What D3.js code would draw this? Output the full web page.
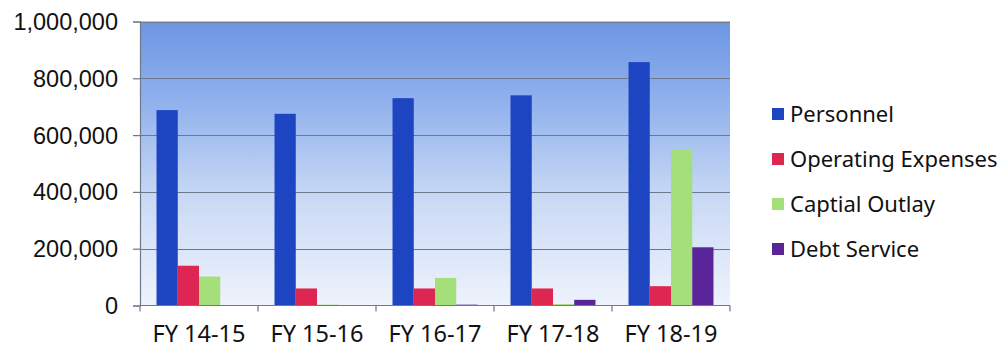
<!DOCTYPE html>
<html>
<head>
<meta charset="utf-8">
<script src="https://cdn.jsdelivr.net/npm/d3@7"></script>
<style>
  html, body { margin: 0; padding: 0; background: #ffffff; }
  svg { display: block; }
</style>
</head>
<body>
<svg id="chart" width="1005" height="349"></svg>
<script>
// Fiscal years on the x axis
const categories = ["FY 14-15", "FY 15-16", "FY 16-17", "FY 17-18", "FY 18-19"];

// Spending by category (dollars)
const personnel = [688000, 675000, 730000, 740000, 857000];
const operatingExpenses = [140000, 60000, 60000, 60000, 68000];
const capitalOutlay = [102000, 3000, 97000, 5000, 549000];
const debtService = [0, 0, 3000, 20000, 205000];

const seriesNames = ["Personnel", "Operating Expenses", "Captial Outlay", "Debt Service"];
const seriesValues = [personnel, operatingExpenses, capitalOutlay, debtService];
const seriesColors = ["#1d45c2", "#de2652", "#a5df7a", "#5a2598"];

const yTicks = [0, 200000, 400000, 600000, 800000, 1000000];

const svg = d3.select("#chart");
const plot = { left: 140, right: 730, top: 21.5, bottom: 305.5 };

const x0 = d3.scaleBand().domain(categories).range([plot.left, plot.right]).padding(0);
const bw = x0.bandwidth();
const x1 = d3.scaleBand().domain(seriesNames)
  .range([bw * 0.14, bw * 0.86]).padding(0);
const y = d3.scaleLinear().domain([0, 1000000]).range([plot.bottom, plot.top]);

// Plot background gradient
const defs = svg.append("defs");
const grad = defs.append("linearGradient").attr("id", "bg")
  .attr("x1", 0).attr("y1", 0).attr("x2", 0).attr("y2", 1);
[["0%", "#6c95e3"], ["30%", "#93b3ed"], ["62%", "#c9d9f5"], ["100%", "#eef3fc"]]
  .forEach(([o, c]) => grad.append("stop").attr("offset", o).attr("stop-color", c));

svg.append("rect")
  .attr("x", plot.left).attr("y", plot.top)
  .attr("width", plot.right - plot.left).attr("height", plot.bottom - plot.top)
  .attr("fill", "url(#bg)");

// Horizontal gridlines
svg.append("g").selectAll("line").data(yTicks.filter(d => d > 0)).join("line")
  .attr("x1", plot.left).attr("x2", plot.right)
  .attr("y1", d => Math.round(y(d)) + 0.5).attr("y2", d => Math.round(y(d)) + 0.5)
  .attr("stroke", "#6d7888").attr("stroke-width", 1.2);

// Bars
const rows = categories.map((c, i) => ({ cat: c, vals: seriesNames.map((s, j) => ({ s, v: seriesValues[j][i], color: seriesColors[j] })) }));
svg.append("g").selectAll("g").data(rows).join("g")
  .attr("transform", d => `translate(${x0(d.cat)},0)`)
  .selectAll("rect").data(d => d.vals).join("rect")
  .attr("x", d => x1(d.s))
  .attr("width", x1.bandwidth())
  .attr("y", d => y(d.v))
  .attr("height", d => y(0) - y(d.v))
  .attr("fill", d => d.color);

// Y axis
const yAxis = svg.append("g")
  .attr("transform", `translate(${plot.left},0)`)
  .call(d3.axisLeft(y).tickValues(yTicks).tickFormat(d3.format(",")).tickSize(7).tickPadding(15));
yAxis.select(".domain").attr("stroke", "#6d7888").attr("stroke-width", 1.2);
yAxis.selectAll(".tick line").attr("stroke", "#6d7888").attr("stroke-width", 1.2);
yAxis.selectAll(".tick text")
  .attr("font-family", "'Liberation Sans', Arial, sans-serif")
  .attr("font-size", "23.5px").attr("fill", "#111").attr("dy", "0.34em");

// X axis baseline with boundary ticks
const xg = svg.append("g");
xg.append("line")
  .attr("x1", plot.left).attr("x2", plot.right)
  .attr("y1", plot.bottom).attr("y2", plot.bottom)
  .attr("stroke", "#6d7888").attr("stroke-width", 1.2);
const bounds = categories.map(c => x0(c)).concat([plot.right]);
xg.selectAll("line.tk").data(bounds).join("line").attr("class", "tk")
  .attr("x1", d => d).attr("x2", d => d)
  .attr("y1", plot.bottom).attr("y2", plot.bottom + 6)
  .attr("stroke", "#6d7888").attr("stroke-width", 1.2);
xg.selectAll("text").data(categories).join("text")
  .attr("x", d => x0(d) + bw / 2)
  .attr("y", 342)
  .attr("text-anchor", "middle")
  .attr("font-family", "'Noto Sans', sans-serif")
  .attr("font-size", "23.5px").attr("fill", "#111")
  .text(d => d);

// Legend
const legend = svg.append("g").attr("transform", "translate(772,0)");
const lg = legend.selectAll("g").data(seriesNames).join("g")
  .attr("transform", (d, i) => `translate(0,${114 + i * 45})`);
lg.append("rect").attr("x", 0).attr("y", -6).attr("width", 12).attr("height", 12)
  .attr("fill", (d, i) => seriesColors[i]);
lg.append("text").attr("x", 18).attr("y", 0).attr("dy", "0.35em")
  .attr("font-family", "'Noto Sans', sans-serif")
  .attr("font-size", "22px").attr("fill", "#111")
  .text(d => d);
</script>
</body>
</html>
